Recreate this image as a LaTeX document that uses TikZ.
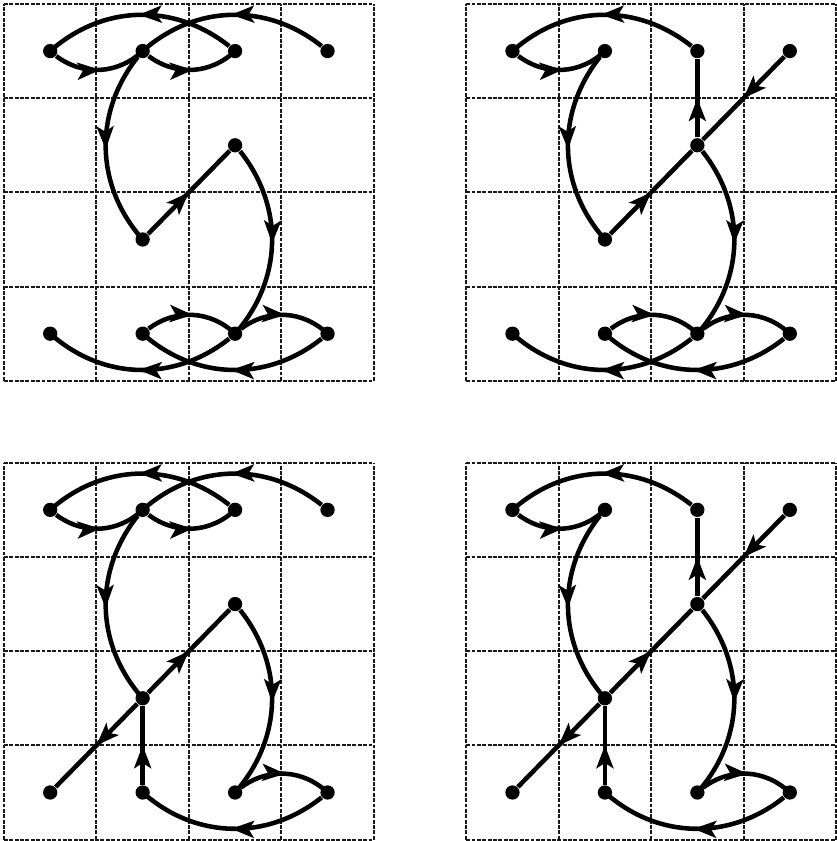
\documentclass[tikz,border=0pt]{standalone}
\usepackage{tikz}
\usetikzlibrary{arrows.meta, decorations.markings}

\begin{document}
\begin{tikzpicture}[
  x=1cm, y=1.019cm,
  gridline/.style={line width=0.65pt, dash pattern=on 1.2pt off 0.45pt, black!90},
  dot/.style={circle, fill=black, inner sep=0pt, minimum size=4.4pt},
  edge/.style={line width=1.4pt, postaction={decorate},
    decoration={markings, mark=at position 0.5 with {\arrow{Stealth[length=7pt, width=5.2pt, inset=1.6pt]}}}},
  topbend/.style={bend right=40},
  lowbend/.style={bend left=40}
]
\useasboundingbox (-0.043,-4.885) rectangle (9.01,4.042);

% grids and dots of the four panels
\foreach \p/\sx/\sy in {a/0/0, b/5/0, c/0/-4.87, d/5/-4.87} {
  \begin{scope}[shift={(\sx,\sy)}, name prefix=\p-]
    \foreach \i in {0,...,4} {
      \draw[gridline] (\i,0) -- (\i,4);
      \draw[gridline] (0,\i) -- (4,\i);
    }
    \foreach \c in {0,...,3} {
      \node[dot] (t\c) at (\c+0.5,3.5) {};
      \node[dot] (b\c) at (\c+0.5,0.5) {};
    }
    \node[dot] (m1) at (1.5,1.5) {};
    \node[dot] (m2) at (2.5,2.5) {};
  \end{scope}
}

% panel a (top left)
\begin{scope}[name prefix=a-]
\draw[edge] (t2) to[topbend] (t0);
\draw[edge] (t3) to[topbend] (t1);
\draw[edge] (t0) to[topbend] (t1);
\draw[edge] (t1) to[topbend] (t2);
\draw[edge] (t1) to[topbend] (m1);
\draw[edge] (m1) -- (m2);
\draw[edge] (m2) to[lowbend] (b2);
\draw[edge] (b1) to[lowbend] (b2);
\draw[edge] (b2) to[lowbend] (b3);
\draw[edge] (b2) to[lowbend] (b0);
\draw[edge] (b3) to[lowbend] (b1);
\end{scope}

% panel b (top right)
\begin{scope}[name prefix=b-]
\draw[edge] (t2) to[topbend] (t0);
\draw[edge] (t0) to[topbend] (t1);
\draw[edge] (t1) to[topbend] (m1);
\draw[edge] (t3) -- (m2);
\draw[edge] (m2) -- (t2);
\draw[edge] (m1) -- (m2);
\draw[edge] (m2) to[lowbend] (b2);
\draw[edge] (b1) to[lowbend] (b2);
\draw[edge] (b2) to[lowbend] (b3);
\draw[edge] (b2) to[lowbend] (b0);
\draw[edge] (b3) to[lowbend] (b1);
\end{scope}

% panel c (bottom left)
\begin{scope}[name prefix=c-]
\draw[edge] (t2) to[topbend] (t0);
\draw[edge] (t3) to[topbend] (t1);
\draw[edge] (t0) to[topbend] (t1);
\draw[edge] (t1) to[topbend] (t2);
\draw[edge] (t1) to[topbend] (m1);
\draw[edge] (m1) -- (m2);
\draw[edge] (m2) to[lowbend] (b2);
\draw[edge] (b2) to[lowbend] (b3);
\draw[edge] (b3) to[lowbend] (b1);
\draw[edge] (b1) -- (m1);
\draw[edge] (m1) -- (b0);
\end{scope}

% panel d (bottom right)
\begin{scope}[name prefix=d-]
\draw[edge] (t2) to[topbend] (t0);
\draw[edge] (t0) to[topbend] (t1);
\draw[edge] (t1) to[topbend] (m1);
\draw[edge] (t3) -- (m2);
\draw[edge] (m2) -- (t2);
\draw[edge] (m1) -- (m2);
\draw[edge] (m2) to[lowbend] (b2);
\draw[edge] (b2) to[lowbend] (b3);
\draw[edge] (b3) to[lowbend] (b1);
\draw[edge] (b1) -- (m1);
\draw[edge] (m1) -- (b0);
\end{scope}

\end{tikzpicture}
\end{document}
